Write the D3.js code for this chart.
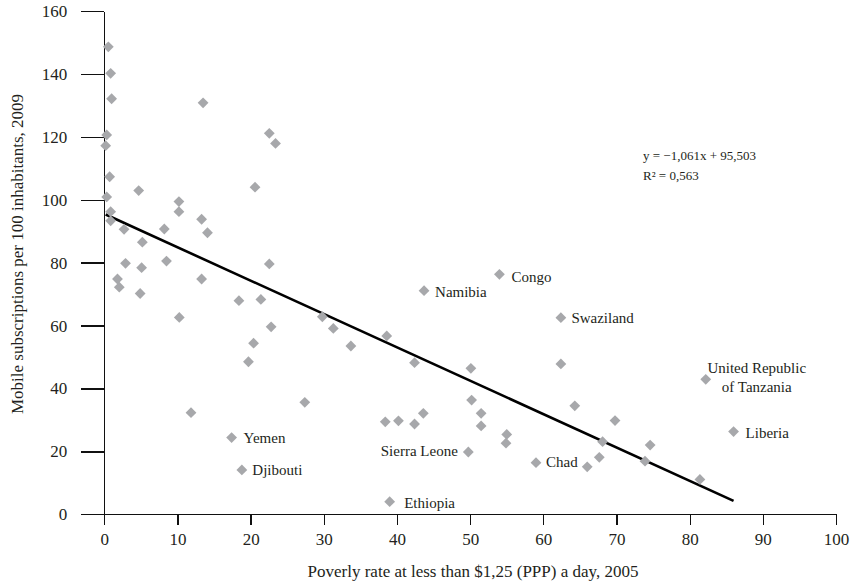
<!DOCTYPE html>
<html>
<head>
<meta charset="utf-8">
<script src="https://cdn.jsdelivr.net/npm/d3@7"></script>
<style>
  html, body { margin: 0; padding: 0; background: #fff; }
  svg { display: block; font-family: "Liberation Serif", "Times New Roman", serif; }
  .axis path, .axis line { stroke: #111; stroke-width: 1.3px; shape-rendering: crispEdges; }
  .axis text { font-family: "Liberation Serif", "Times New Roman", serif; font-size: 17px; fill: #231f20; }
</style>
</head>
<body>
<script>
// Poverty rate (<$1.25/day, 2005) and mobile subscriptions per 100 inhabitants (2009), by country
const poverty = [
  0.55, 0.87, 1.0, 13.5, 0.33, 0.19, 0.73, 0.33, 4.7, 20.6,
  10.2, 10.2, 0.87, 0.87, 13.3, 14.1, 2.7, 8.2, 5.2, 2.9,
  5.1, 8.5, 1.8, 2.05, 13.3, 4.9, 18.4, 21.4, 10.25, 20.4,
  19.7, 22.55, 23.4, 22.55, 22.8, 11.85, 27.4, 17.4, 18.8, 54.0,
  43.7, 62.4, 29.8, 31.3, 33.7, 38.6, 42.4, 50.1, 62.4, 50.2,
  64.3, 38.4, 40.2, 42.4, 43.6, 51.5, 51.5, 55.0, 54.9, 49.75,
  59.0, 39.0, 82.2, 69.8, 86.0, 68.1, 74.6, 67.65, 66.0, 73.9,
  81.4
];
const mobile = [
  148.6, 140.2, 132.1, 130.8, 120.6, 117.2, 107.3, 100.9, 102.9, 104.0,
  99.4, 96.2, 96.2, 93.3, 93.8, 89.5, 90.6, 90.7, 86.5, 79.8,
  78.4, 80.5, 74.8, 72.2, 74.8, 70.2, 67.9, 68.3, 62.6, 54.4,
  48.5, 121.1, 117.9, 79.6, 59.6, 32.3, 35.6, 24.4, 14.1, 76.3,
  71.1, 62.5, 62.8, 59.1, 53.5, 56.7, 48.2, 46.4, 47.8, 36.3,
  34.5, 29.4, 29.7, 28.7, 32.1, 32.1, 28.1, 25.4, 22.6, 19.8,
  16.4, 4.0, 42.9, 29.8, 26.3, 23.1, 22.0, 18.1, 15.1, 16.9,
  11.1
];
const names = [
  "", "", "", "", "", "", "", "", "", "",
  "", "", "", "", "", "", "", "", "", "",
  "", "", "", "", "", "", "", "", "", "",
  "", "", "", "", "", "", "", "Yemen", "Djibouti", "Congo",
  "Namibia", "Swaziland", "", "", "", "", "", "", "", "",
  "", "", "", "", "", "", "", "", "", "Sierra Leone",
  "Chad", "Ethiopia", "United Republic|of Tanzania", "", "Liberia", "", "", "", "", "",
  ""
];

const xTicks = [0, 10, 20, 30, 40, 50, 60, 70, 80, 90, 100];
const yTicks = [0, 20, 40, 60, 80, 100, 120, 140, 160];

const slope = -1.061;
const intercept = 95.503;
const equationLines = ["y = \u22121,061x + 95,503", "R\u00B2 = 0,563"];

const xTitle = "Poverly rate at less than $1,25 (PPP) a day, 2005";
const yTitle = "Mobile subscriptions per 100 inhabitants, 2009";

// Label placement relative to each diamond
const labelPlace = {
  "Yemen":        { dx: 12, dy: 0, anchor: "start" },
  "Djibouti":     { dx: 10.5, dy: 0, anchor: "start" },
  "Congo":        { dx: 12, dy: 2, anchor: "start" },
  "Namibia":      { dx: 11, dy: 1, anchor: "start" },
  "Swaziland":    { dx: 10.5, dy: 0, anchor: "start" },
  "Sierra Leone": { dx: -10.5, dy: -1, anchor: "end" },
  "Chad":         { dx: 10, dy: -1, anchor: "start" },
  "Ethiopia":     { dx: 14.5, dy: 1.5, anchor: "start" },
  "Liberia":      { dx: 12, dy: 1, anchor: "start" },
  "United Republic|of Tanzania": { dx: 51, dy: -1, anchor: "middle" }
};

const W = 852, H = 585;
const svg = d3.select("body").append("svg").attr("width", W).attr("height", H);

const x = d3.scaleLinear().domain([0, 100]).range([104.3, 836]);
const y = d3.scaleLinear().domain([0, 160]).range([514.3, 11]);

// Axes
svg.append("g")
  .attr("class", "axis")
  .attr("transform", `translate(0,${y(0)})`)
  .call(d3.axisBottom(x).tickValues(xTicks).tickSize(11).tickSizeOuter(0).tickPadding(8).tickFormat(d3.format("d")));

svg.append("g")
  .attr("class", "axis")
  .attr("transform", `translate(${x(0)},0)`)
  .call(d3.axisLeft(y).tickValues(yTicks).tickSize(23).tickSizeOuter(0).tickPadding(14).tickFormat(d3.format("d")));

// Axis titles
svg.append("text")
  .attr("x", 473).attr("y", 577)
  .attr("text-anchor", "middle")
  .style("font-size", "17px").style("fill", "#231f20")
  .text(xTitle);

svg.append("text")
  .attr("transform", "translate(23,254) rotate(-90)")
  .attr("text-anchor", "middle")
  .style("font-size", "17px").style("fill", "#231f20")
  .text(yTitle);

// Trend line over the data range (drawn beneath the markers)
const [x0, x1] = d3.extent(poverty);
svg.append("line")
  .attr("x1", x(x0)).attr("y1", y(slope * x0 + intercept))
  .attr("x2", x(x1)).attr("y2", y(slope * x1 + intercept))
  .attr("stroke", "#000").attr("stroke-width", 2.6);

// Points
const pts = poverty.map((p, i) => ({ px: p, my: mobile[i], name: names[i] }));
const r = 5.4;
const diamond = `M0,${-r}L${r},0L0,${r}L${-r},0Z`;

svg.append("g").selectAll("path")
  .data(pts)
  .join("path")
  .attr("d", diamond)
  .attr("transform", d => `translate(${x(d.px)},${y(d.my)})`)
  .attr("fill", "#a7a8ab");

// Country labels
const labelled = pts.filter(d => d.name);
labelled.forEach(d => {
  const pl = labelPlace[d.name];
  const lines = d.name.split("|");
  const t = svg.append("text")
    .attr("text-anchor", pl.anchor)
    .style("font-size", "15px").style("fill", "#231f20");
  if (lines.length === 1) {
    t.attr("x", x(d.px) + pl.dx).attr("y", y(d.my) + pl.dy).attr("dy", "0.35em").text(lines[0]);
  } else {
    lines.forEach((ln, k) => {
      t.append("tspan")
        .attr("x", x(d.px) + pl.dx)
        .attr("y", y(d.my) + pl.dy - 5.3 + k * 19)
        .text(ln);
    });
  }
});

// Regression equation
svg.append("text")
  .style("font-size", "13px").style("fill", "#231f20")
  .selectAll("tspan")
  .data(equationLines)
  .join("tspan")
  .attr("x", 643)
  .attr("y", (d, i) => 160 + i * 20)
  .text(d => d);
</script>
</body>
</html>
